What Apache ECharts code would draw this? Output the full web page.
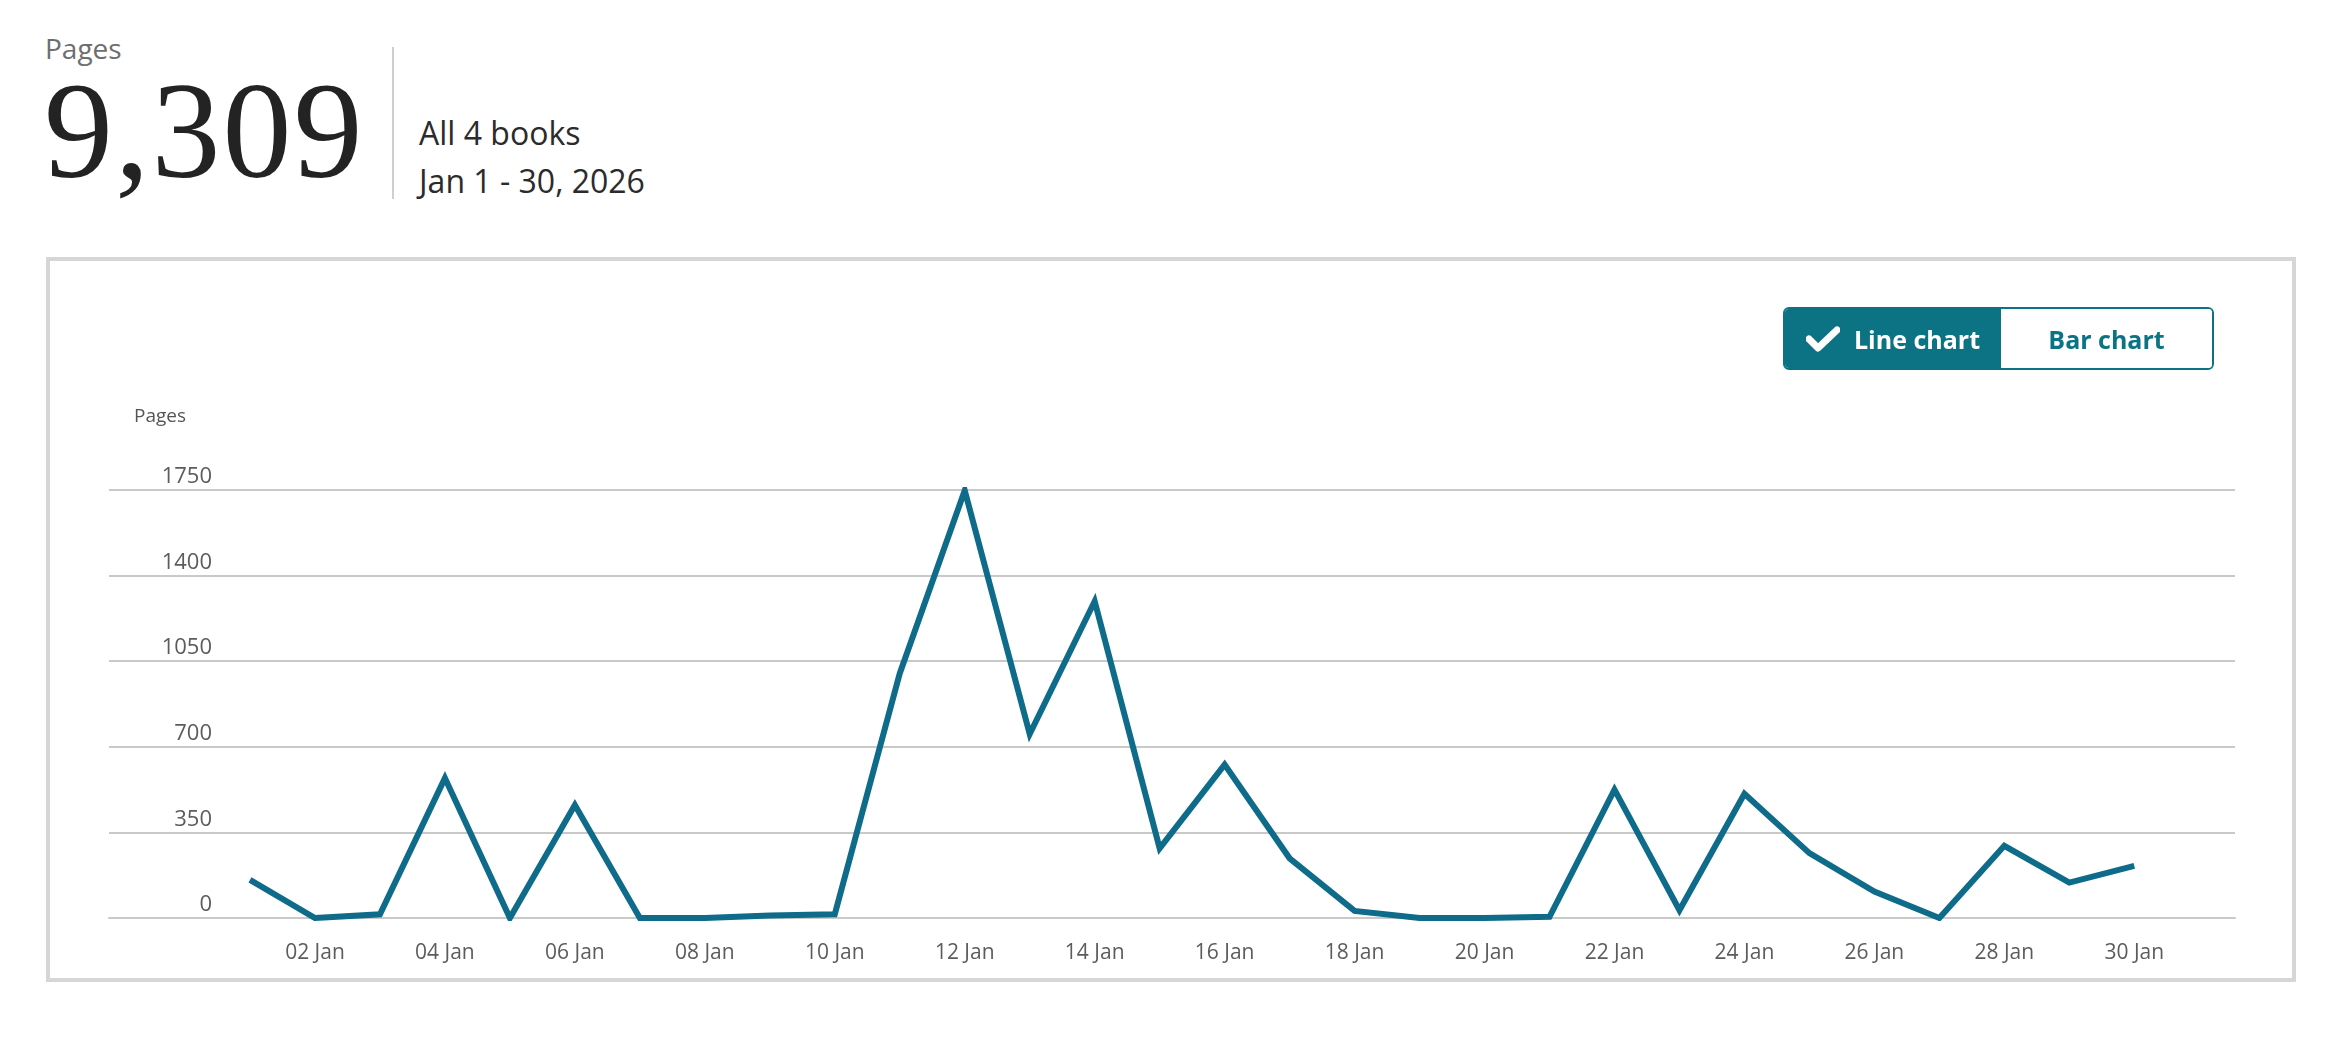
<!DOCTYPE html>
<html>
<head>
<meta charset="utf-8">
<script src="https://cdn.jsdelivr.net/npm/echarts@6/dist/echarts.min.js"></script>
<style>
  html, body { margin: 0; padding: 0; background: #fff; }
  body { width: 2344px; height: 1042px; position: relative; overflow: hidden; font-family: "Open Sans", sans-serif; }
  .abs { position: absolute; white-space: nowrap; }
  #kpiLabel { left: 45px; top: 34px; font-size: 28px; line-height: 28px; color: #6e6e6e; }
  #kpi { left: 44px; top: 63px; font-family: "Liberation Serif", serif; font-size: 138px; line-height: 136px; letter-spacing: 2px; color: #232323; }
  #divider { left: 392px; top: 47px; width: 2px; height: 152px; background: #cfcfcf; }
  .sub { left: 419px; font-size: 32px; line-height: 32px; color: #2b2b2b; }
  #box { left: 46px; top: 257px; width: 2250px; height: 725px; border: 4px solid #d6d6d6; box-sizing: border-box; }
  #chart { left: 0; top: 0; width: 2344px; height: 1042px; }
  #toggle { left: 1783px; top: 307px; width: 431px; height: 63px; border: 2px solid #0c7385; border-radius: 6px;
            box-sizing: border-box; display: flex; overflow: hidden; z-index: 5; }
  #toggle div { display: flex; align-items: center; justify-content: center; font-weight: 700; font-size: 25px; }
  #btnLine { width: 216px; background: #0c7385; color: #fff; }
  #btnBar { flex: 1; background: #fff; color: #0c7385; }
  #btnLine svg { margin-right: 14px; }
</style>
</head>
<body>
<div id="kpiLabel" class="abs">Pages</div>
<div id="kpi" class="abs">9,309</div>
<div id="divider" class="abs"></div>
<div class="abs sub" style="top:117px">All 4 books</div>
<div class="abs sub" style="top:165px">Jan 1 - 30, 2026</div>
<div id="box" class="abs"></div>
<div id="chart" class="abs"></div>
<div id="toggle" class="abs">
  <div id="btnLine"><svg width="34" height="26" viewBox="0 0 34 26"><path d="M3 13 L12 22 L31 4" fill="none" stroke="#fff" stroke-width="7" stroke-linecap="round" stroke-linejoin="round"/></svg>Line chart</div>
  <div id="btnBar">Bar chart</div>
</div>
<script>
// 日期（1月1日 - 30日）
const dayLabels = [
  "01 Jan", "02 Jan", "03 Jan", "04 Jan", "05 Jan", "06 Jan", "07 Jan", "08 Jan", "09 Jan", "10 Jan",
  "11 Jan", "12 Jan", "13 Jan", "14 Jan", "15 Jan", "16 Jan", "17 Jan", "18 Jan", "19 Jan", "20 Jan",
  "21 Jan", "22 Jan", "23 Jan", "24 Jan", "25 Jan", "26 Jan", "27 Jan", "28 Jan", "29 Jan", "30 Jan"
];
// 每日阅读页数
const pages = [
  156, 0, 15, 572, 0, 462, 0, 0, 10, 15,
  1000, 1748, 752, 1295, 285, 627, 244, 29, 0, 0,
  5, 525, 32, 508, 265, 108, 0, 295, 145, 213
];
// x轴显示的刻度（隔天）
const tickDays = [2, 4, 6, 8, 10, 12, 14, 16, 18, 20, 22, 24, 26, 28, 30];
// y轴刻度
const yTicks = [0, 350, 700, 1050, 1400, 1750];

const font = "Open Sans";
const chart = echarts.init(document.getElementById("chart"));
chart.setOption({
  animation: false,
  //y轴名称单独放，位置好控制
  title: {
    text: "Pages",
    left: 129,
    top: 402,
    textStyle: { color: "#555", fontFamily: font, fontSize: 19, fontWeight: "normal" },
  },
  grid: { left: 109, right: 109, top: 490, bottom: 124 },
  xAxis: {
    type: "value",
    min: -1.17,
    max: 31.55,
    splitLine: { show: false },
    axisTick: { show: false },
    axisLine: { show: true, onZero: true, lineStyle: { color: "#c9c9c9", width: 2 } },
    axisLabel: {
      customValues: tickDays,
      formatter: (v) => dayLabels[v - 1],
      color: "#5c5c5c",
      fontFamily: font,
      fontSize: 21,
      margin: 25,
    },
  },
  yAxis: {
    type: "value",
    min: yTicks[0],
    max: yTicks[yTicks.length - 1],
    interval: 350,
    axisLine: { show: false },
    axisTick: { show: false },
    splitLine: { lineStyle: { color: "#c9c9c9", width: 2 } },
    axisLabel: {
      inside: true,
      align: "right",
      verticalAlign: "bottom",
      margin: 103,
      padding: [0, 0, 2, 0],
      formatter: (v) => String(v),
      color: "#5c5c5c",
      fontFamily: font,
      fontSize: 22,
    },
  },
  series: [
    {
      type: "line",
      data: pages.map((v, i) => [i + 1, v]),
      showSymbol: false,
      symbol: "none",
      lineStyle: { color: "#0e6c8a", width: 6, join: "miter", miterLimit: 6 },
    },
  ],
});
</script>
</body>
</html>
